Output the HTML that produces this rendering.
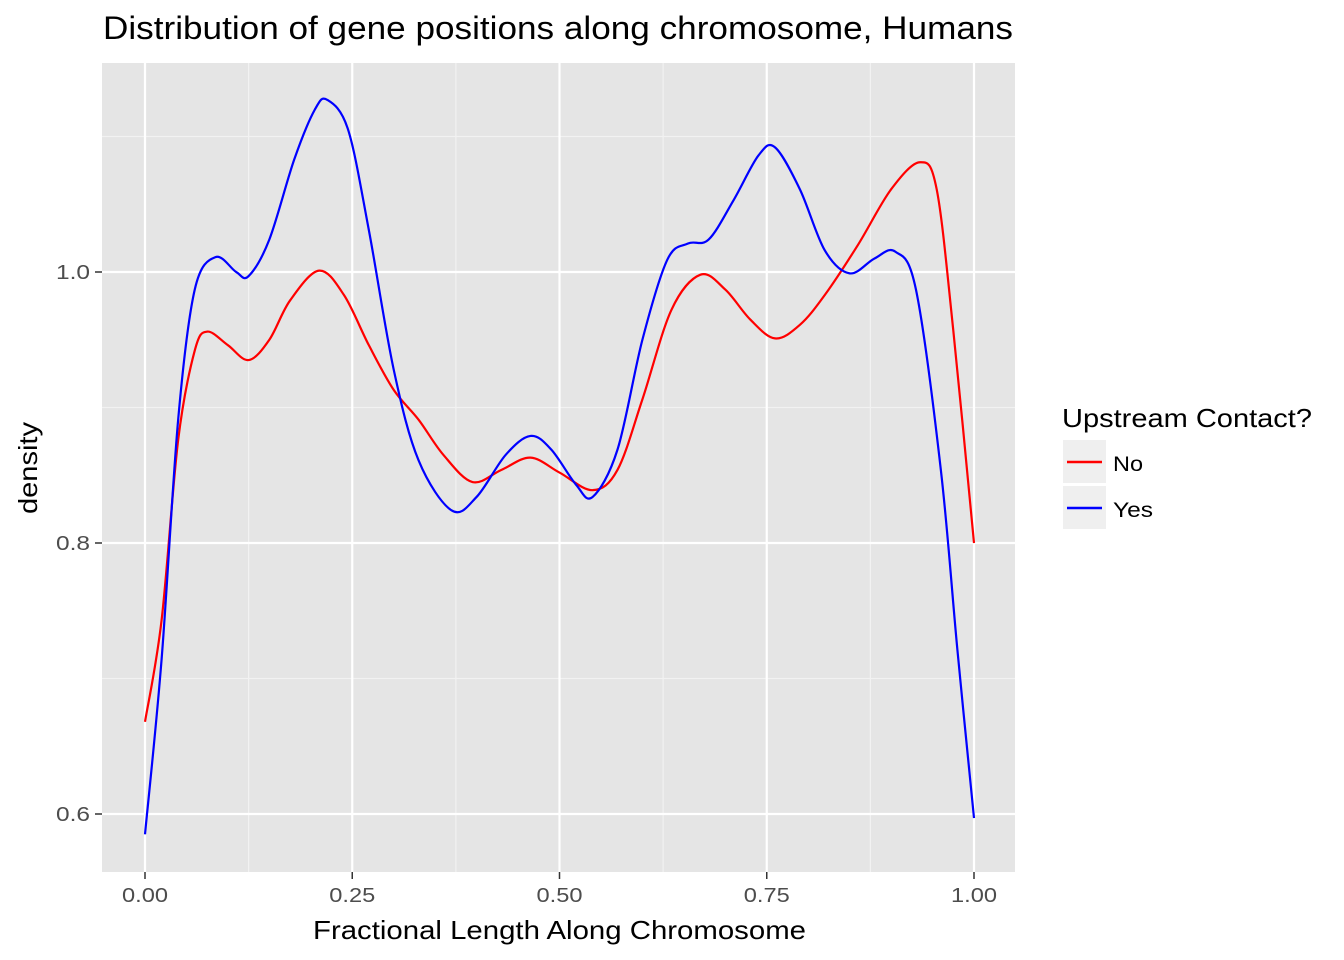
<!DOCTYPE html>
<html><head><meta charset="utf-8"><style>
body{margin:0;background:#fff}
svg{display:block;font-family:"Liberation Sans",Arial,sans-serif}
</style></head><body>
<svg id="c" width="1344" height="960">
<rect x="0" y="0" width="1344" height="960" fill="#fff"/>
<text x="103" y="39" font-size="32" textLength="910" lengthAdjust="spacingAndGlyphs" fill="#000">Distribution of gene positions along chromosome, Humans</text>
<rect id="panel" x="102" y="63" width="913" height="809" fill="#e5e5e5"/>
<g id="grid"></g>
<g id="lines"></g>
<g id="axes"></g>
<text x="313" y="939" font-size="26" textLength="493" lengthAdjust="spacingAndGlyphs" fill="#000">Fractional Length Along Chromosome</text>
<text transform="translate(37,468) rotate(-90)" font-size="26" text-anchor="middle" textLength="92" lengthAdjust="spacingAndGlyphs" fill="#000">density</text>
<g>
<text x="1062" y="427" font-size="26" textLength="250" lengthAdjust="spacingAndGlyphs" fill="#000">Upstream Contact?</text>
<rect x="1063" y="440" width="43" height="43" fill="#efefef"/>
<line x1="1067" x2="1102" y1="462" y2="462" stroke="#ff0000" stroke-width="2.5"/>
<text x="1113" y="471" font-size="21" textLength="30" lengthAdjust="spacingAndGlyphs" fill="#000">No</text>
<rect x="1063" y="486" width="43" height="43" fill="#efefef"/>
<line x1="1067" x2="1102" y1="508" y2="508" stroke="#0000ff" stroke-width="2.5"/>
<text x="1113" y="517" font-size="21" textLength="40" lengthAdjust="spacingAndGlyphs" fill="#000">Yes</text>
</g>
</svg>
<script>
const xTicks=[0,0.25,0.5,0.75,1];
const xTickLabels=["0.00","0.25","0.50","0.75","1.00"];
const yTicks=[0.6,0.8,1.0];
const yTickLabels=["0.6","0.8","1.0"];
const noX=[0,0.02,0.04,0.06,0.075,0.1,0.125,0.15,0.175,0.21,0.24,0.27,0.3,0.33,0.36,0.395,0.43,0.465,0.5,0.54,0.57,0.6,0.635,0.67,0.7,0.73,0.76,0.79,0.82,0.86,0.9,0.935,0.955,0.975,1.0];
const noY=[0.668,0.743,0.876,0.942,0.956,0.946,0.935,0.950,0.979,1.001,0.983,0.946,0.913,0.891,0.865,0.845,0.854,0.863,0.852,0.839,0.854,0.906,0.972,0.998,0.987,0.965,0.951,0.961,0.983,1.020,1.061,1.081,1.061,0.957,0.800];
const yesX=[0,0.02,0.04,0.06,0.085,0.11,0.125,0.15,0.18,0.205,0.22,0.245,0.27,0.3,0.33,0.37,0.4,0.435,0.465,0.49,0.52,0.54,0.57,0.6,0.63,0.655,0.68,0.71,0.74,0.76,0.79,0.82,0.85,0.88,0.905,0.93,0.96,0.98,1.0];
const yesY=[0.585,0.714,0.891,0.987,1.011,1.0,0.997,1.024,1.083,1.120,1.127,1.105,1.031,0.928,0.861,0.824,0.834,0.865,0.879,0.869,0.843,0.834,0.869,0.950,1.009,1.021,1.024,1.053,1.086,1.092,1.061,1.016,0.999,1.010,1.015,0.987,0.854,0.721,0.597];
const NS="http://www.w3.org/2000/svg";
const sx=v=>145+v*829, sy=v=>814-(v-0.6)*1355;
function mk(tag,attrs,parent){const e=document.createElementNS(NS,tag);for(const k in attrs)e.setAttribute(k,attrs[k]);parent.appendChild(e);return e;}
const grid=document.getElementById('grid'),axes=document.getElementById('axes'),lines=document.getElementById('lines');
for(let i=0;i<xTicks.length-1;i++){const m=(xTicks[i]+xTicks[i+1])/2;const g=mk('line',{x1:sx(m),x2:sx(m),y1:63,y2:872,stroke:'#f2f2f2','stroke-width':1.2},grid);

}
for(let i=0;i<yTicks.length;i++){const m=yTicks[i]+0.1;const g=mk('line',{x1:102,x2:1015,y1:sy(m),y2:sy(m),stroke:'#f2f2f2','stroke-width':1.2},grid);

}
xTicks.forEach((t,i)=>{const g=mk('line',{x1:sx(t),x2:sx(t),y1:63,y2:872,stroke:'#fff','stroke-width':2.2},grid);


mk('line',{x1:sx(t),x2:sx(t),y1:872,y2:879,stroke:'#333','stroke-width':1.5},axes);
const tx=mk('text',{x:sx(t),y:902,'font-size':20,'text-anchor':'middle',textLength:46,lengthAdjust:'spacingAndGlyphs',fill:'#4d4d4d'},axes);tx.textContent=xTickLabels[i];

});
yTicks.forEach((t,i)=>{const g=mk('line',{x1:102,x2:1015,y1:sy(t),y2:sy(t),stroke:'#fff','stroke-width':2.2},grid);


mk('line',{x1:95,x2:102,y1:sy(t),y2:sy(t),stroke:'#333','stroke-width':1.5},axes);
const tx=mk('text',{x:90,y:sy(t)+7,'font-size':20,'text-anchor':'end',textLength:34,lengthAdjust:'spacingAndGlyphs',fill:'#4d4d4d'},axes);tx.textContent=yTickLabels[i];

});
function path(xs,ys){const p=xs.map((x,i)=>[sx(x),sy(ys[i])]);let d=`M${p[0][0]},${p[0][1]}`;
for(let i=0;i<p.length-1;i++){const p0=p[Math.max(0,i-1)],p1=p[i],p2=p[i+1],p3=p[Math.min(p.length-1,i+2)];
const c1=[p1[0]+(p2[0]-p0[0])/6,p1[1]+(p2[1]-p0[1])/6],c2=[p2[0]-(p3[0]-p1[0])/6,p2[1]-(p3[1]-p1[1])/6];
d+=` C${c1[0]},${c1[1]} ${c2[0]},${c2[1]} ${p2[0]},${p2[1]}`;}return d;}
const r=mk('path',{d:path(noX,noY),fill:'none',stroke:'#ff0000','stroke-width':2.2},lines);


const b=mk('path',{d:path(yesX,yesY),fill:'none',stroke:'#0000ff','stroke-width':2.2},lines);


</script>
</body></html>
